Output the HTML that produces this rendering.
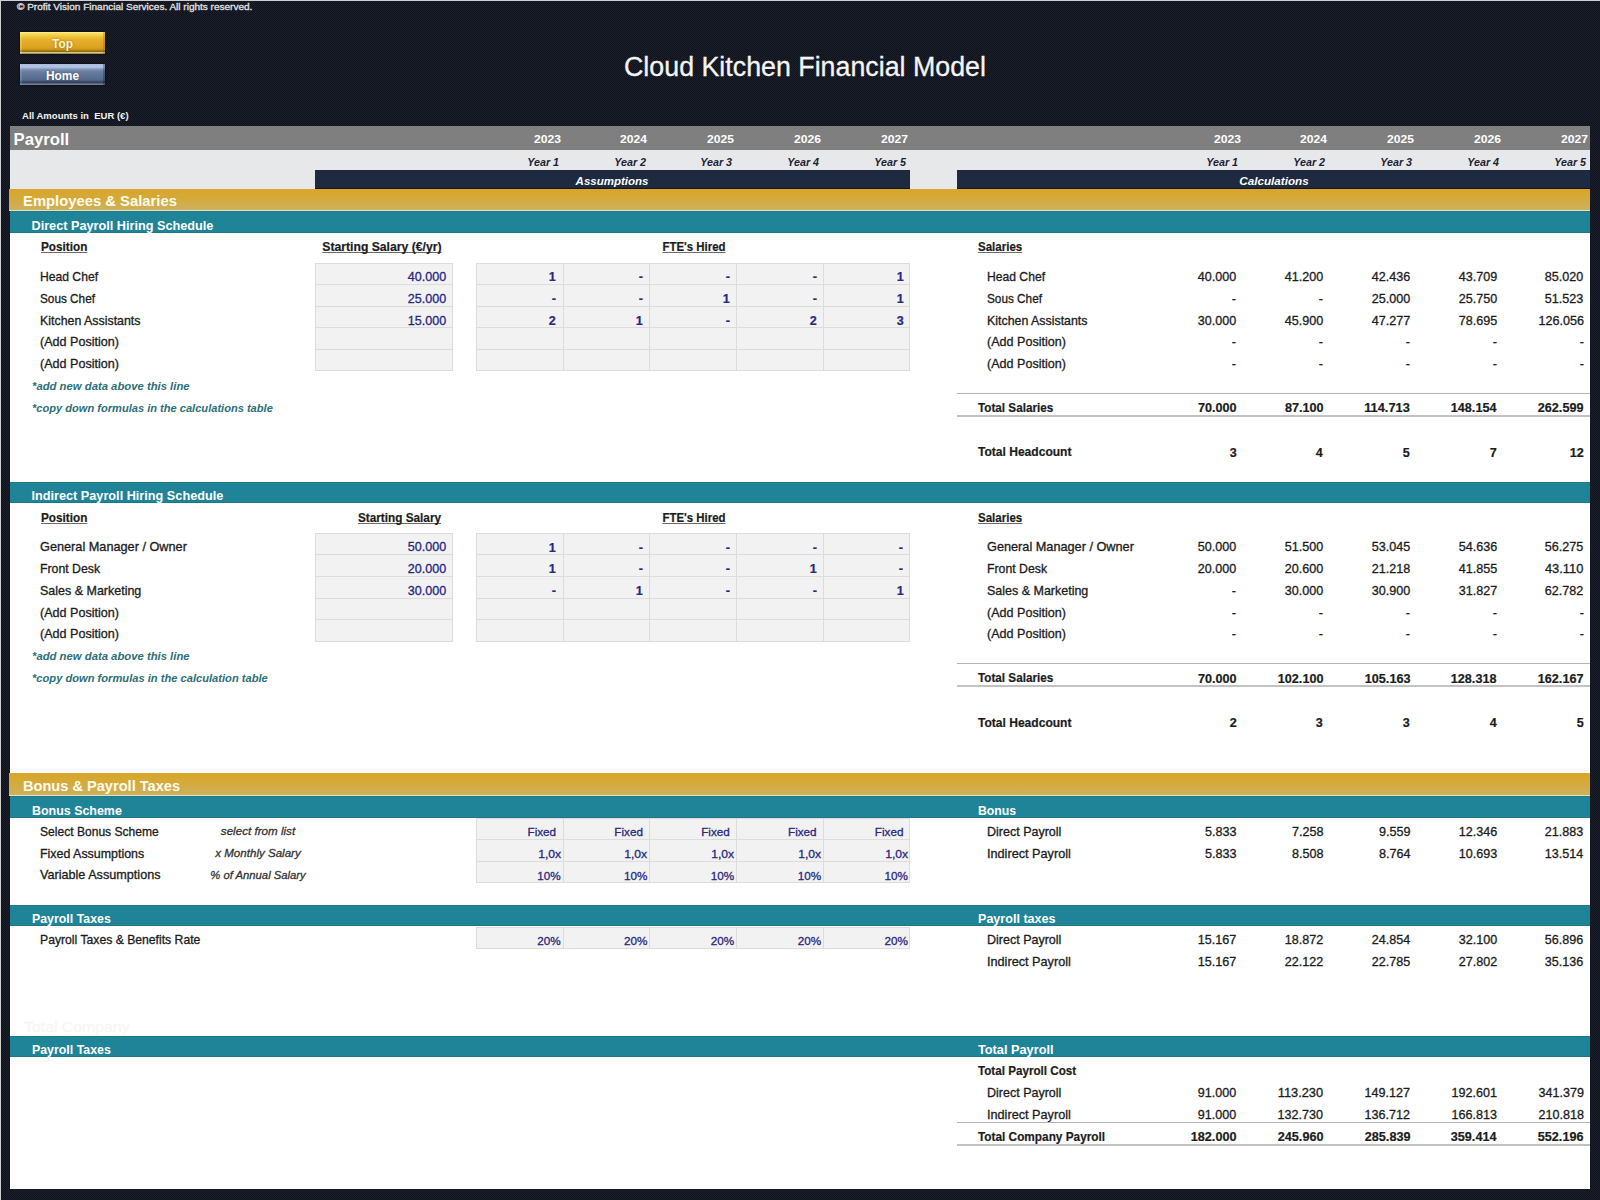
<!DOCTYPE html>
<html><head><meta charset="utf-8"><title>Cloud Kitchen Financial Model - Payroll</title>
<style>
html,body{margin:0;padding:0;}
body{width:1600px;height:1200px;position:relative;overflow:hidden;font-family:"Liberation Sans", Arial, sans-serif;
background-color:#151924;
background-image:repeating-conic-gradient(#1b1f2b 0 25%, #10131c 0 50%);
background-size:2px 2px;
}
.edge{position:absolute;background:#cfcfd2;}
.t{position:absolute;white-space:nowrap;line-height:1;}
.r{position:absolute;}
.btn{position:absolute;box-sizing:border-box;display:flex;align-items:center;justify-content:center;
 font-weight:bold;font-size:11.9px;color:#fff4cc;}
.btn span{position:relative;top:1px;text-shadow:0 0 2px rgba(0,0,0,0.35);}
.btn.gold{background:linear-gradient(to bottom,#fff0a8 0px,#f7df5c 1.5px,#f2d24a 3px,#ecc034 5.5px,#e6b02a 8px,#e2a826 12px,#daa01f 16px,#c99416 17.5px,#a27e16 18.5px,#8e7014 19.5px,#d6c488 20.5px,#a89450 21.5px,#7e6c36 22px);
 box-shadow:inset 2px 0 0 rgba(255,236,150,0.28),inset -2px 0 0 rgba(110,70,0,0.25),0 0 2px rgba(0,0,0,0.8);}
.btn.blue{background:linear-gradient(to bottom,#a9b9d6 0px,#b4c4e4 2px,#aabbe0 3.5px,#7d90b4 5.5px,#687ca0 8px,#5f7396 12px,#55688a 16px,#3e4e6a 17.5px,#2e3b52 19px,#8694b2 20px,#56647e 21px);
 box-shadow:inset 2px 0 0 rgba(200,215,245,0.18),inset -2px 0 0 rgba(10,20,40,0.3),0 0 2px rgba(0,0,0,0.8);color:#ffffff;}
</style></head>
<body>
<div class="edge" style="left:0;top:0;width:1600px;height:1px;"></div>
<div class="edge" style="left:0;top:0;width:1px;height:1200px;"></div>
<div class="t" style="top:1.88px;font-size:9.4px;-webkit-text-stroke:0.3px;color:#e2e2e2;left:17.00px;transform:scaleX(1.0679);transform-origin:left center;">© Profit Vision Financial Services. All rights reserved.</div>
<div class="btn gold" style="left:20px;top:32px;width:85px;height:22px;"><span>Top</span></div>
<div class="btn blue" style="left:20px;top:64px;width:85px;height:21px;"><span>Home</span></div>
<div class="t" style="top:53.96px;font-size:26.8px;-webkit-text-stroke:0.3px;color:#f4f4f4;left:505.00px;width:600px;text-align:center;">Cloud Kitchen Financial Model</div>
<div class="t" style="top:111.02px;font-size:9.6px;font-weight:bold;color:#f2f2f2;left:22.00px;transform:scaleX(0.9934);transform-origin:left center;">All Amounts in&nbsp; EUR (€)</div>
<div class="r" style="left:10px;top:126px;width:1580px;height:1063px;background:#ffffff;"></div>
<div class="r" style="left:10px;top:126px;width:1580px;height:24px;background:#7f7f7f;"></div>
<div class="t" style="top:132.04px;font-size:16.7px;font-weight:bold;color:#ffffff;left:13.50px;">Payroll</div>
<div class="t" style="top:132.94px;font-size:11.7px;font-weight:bold;color:#ffffff;right:1039.40px;transform:scaleX(1.0366);transform-origin:right center;">2023</div>
<div class="t" style="top:132.94px;font-size:11.7px;font-weight:bold;color:#ffffff;right:359.40px;transform:scaleX(1.0366);transform-origin:right center;">2023</div>
<div class="t" style="top:132.94px;font-size:11.7px;font-weight:bold;color:#ffffff;right:952.60px;transform:scaleX(1.0366);transform-origin:right center;">2024</div>
<div class="t" style="top:132.94px;font-size:11.7px;font-weight:bold;color:#ffffff;right:272.60px;transform:scaleX(1.0366);transform-origin:right center;">2024</div>
<div class="t" style="top:132.94px;font-size:11.7px;font-weight:bold;color:#ffffff;right:865.80px;transform:scaleX(1.0366);transform-origin:right center;">2025</div>
<div class="t" style="top:132.94px;font-size:11.7px;font-weight:bold;color:#ffffff;right:185.80px;transform:scaleX(1.0366);transform-origin:right center;">2025</div>
<div class="t" style="top:132.94px;font-size:11.7px;font-weight:bold;color:#ffffff;right:779.00px;transform:scaleX(1.0366);transform-origin:right center;">2026</div>
<div class="t" style="top:132.94px;font-size:11.7px;font-weight:bold;color:#ffffff;right:99.00px;transform:scaleX(1.0366);transform-origin:right center;">2026</div>
<div class="t" style="top:132.94px;font-size:11.7px;font-weight:bold;color:#ffffff;right:692.20px;transform:scaleX(1.0366);transform-origin:right center;">2027</div>
<div class="t" style="top:132.94px;font-size:11.7px;font-weight:bold;color:#ffffff;right:12.20px;transform:scaleX(1.0366);transform-origin:right center;">2027</div>
<div class="r" style="left:10px;top:150px;width:1580px;height:39px;background:#e7e8ea;"></div>
<div class="t" style="top:156.76px;font-size:10.8px;font-weight:bold;font-style:italic;color:#1b2233;right:1041.20px;transform:scaleX(0.9941);transform-origin:right center;">Year 1</div>
<div class="t" style="top:156.76px;font-size:10.8px;font-weight:bold;font-style:italic;color:#1b2233;right:361.50px;transform:scaleX(0.9941);transform-origin:right center;">Year 1</div>
<div class="t" style="top:156.76px;font-size:10.8px;font-weight:bold;font-style:italic;color:#1b2233;right:954.40px;transform:scaleX(0.9941);transform-origin:right center;">Year 2</div>
<div class="t" style="top:156.76px;font-size:10.8px;font-weight:bold;font-style:italic;color:#1b2233;right:274.70px;transform:scaleX(0.9941);transform-origin:right center;">Year 2</div>
<div class="t" style="top:156.76px;font-size:10.8px;font-weight:bold;font-style:italic;color:#1b2233;right:867.60px;transform:scaleX(0.9941);transform-origin:right center;">Year 3</div>
<div class="t" style="top:156.76px;font-size:10.8px;font-weight:bold;font-style:italic;color:#1b2233;right:187.90px;transform:scaleX(0.9941);transform-origin:right center;">Year 3</div>
<div class="t" style="top:156.76px;font-size:10.8px;font-weight:bold;font-style:italic;color:#1b2233;right:780.80px;transform:scaleX(0.9941);transform-origin:right center;">Year 4</div>
<div class="t" style="top:156.76px;font-size:10.8px;font-weight:bold;font-style:italic;color:#1b2233;right:101.10px;transform:scaleX(0.9941);transform-origin:right center;">Year 4</div>
<div class="t" style="top:156.76px;font-size:10.8px;font-weight:bold;font-style:italic;color:#1b2233;right:694.00px;transform:scaleX(0.9941);transform-origin:right center;">Year 5</div>
<div class="t" style="top:156.76px;font-size:10.8px;font-weight:bold;font-style:italic;color:#1b2233;right:14.30px;transform:scaleX(0.9941);transform-origin:right center;">Year 5</div>
<div class="r" style="left:315px;top:170px;width:595px;height:18.7px;background:#1d2a40;border-bottom:1px solid #11161c;box-sizing:border-box;"></div>
<div class="r" style="left:957px;top:170px;width:633px;height:18.7px;background:#1d2a40;border-bottom:1px solid #11161c;box-sizing:border-box;"></div>
<div class="t" style="top:176.30px;font-size:11.5px;font-weight:bold;font-style:italic;color:#ffffff;left:412.00px;width:400px;text-align:center;">Assumptions</div>
<div class="t" style="top:176.30px;font-size:11.5px;font-weight:bold;font-style:italic;color:#ffffff;left:1073.50px;width:400px;text-align:center;transform:scaleX(1.0167);transform-origin:center center;">Calculations</div>
<div class="r" style="left:9px;top:188.7px;width:1581px;height:21.5px;background:linear-gradient(#d9a52a 0%, #d5aa3a 45%, #ceb05f 100%);"></div>
<div class="r" style="left:9px;top:210.2px;width:1581px;height:1.2px;background:#dfe3c4;"></div>
<div class="t" style="top:194.14px;font-size:14.7px;font-weight:bold;color:#fffbea;left:22.50px;transform:scaleX(1.0081);transform-origin:left center;">Employees &amp; Salaries</div>
<div class="r" style="left:10px;top:211.3px;width:1580px;height:21.6px;background:linear-gradient(#1b7282 0px, #1f8497 1.2px, #1f8497 calc(100% - 1.2px), #1b7080 100%);"></div>
<div class="t" style="top:219.74px;font-size:12.7px;font-weight:bold;color:#ffffff;left:31.50px;">Direct Payroll Hiring Schedule</div>
<div class="t" style="top:241.24px;font-size:12.2px;font-weight:bold;-webkit-text-stroke:0.2px;color:#1c1c1c;left:40.50px;text-decoration:underline;text-decoration-color:#6a6a6a;text-decoration-thickness:1.2px;text-underline-offset:1px;text-decoration-skip-ink:none;transform:scaleX(0.9639);transform-origin:left center;">Position</div>
<div class="t" style="top:241.24px;font-size:12.2px;font-weight:bold;-webkit-text-stroke:0.2px;color:#1c1c1c;right:1158.50px;text-decoration:underline;text-decoration-color:#6a6a6a;text-decoration-thickness:1.2px;text-underline-offset:1px;text-decoration-skip-ink:none;">Starting Salary (€/yr)</div>
<div class="t" style="top:241.24px;font-size:12.2px;font-weight:bold;-webkit-text-stroke:0.2px;color:#1c1c1c;left:493.50px;width:400px;text-align:center;text-decoration:underline;text-decoration-color:#6a6a6a;text-decoration-thickness:1.2px;text-underline-offset:1px;text-decoration-skip-ink:none;transform:scaleX(0.9361);transform-origin:center center;">FTE's Hired</div>
<div class="t" style="top:241.24px;font-size:12.2px;font-weight:bold;-webkit-text-stroke:0.2px;color:#1c1c1c;left:977.60px;text-decoration:underline;text-decoration-color:#6a6a6a;text-decoration-thickness:1.2px;text-underline-offset:1px;text-decoration-skip-ink:none;transform:scaleX(0.9469);transform-origin:left center;">Salaries</div>
<div class="r" style="left:315.2px;top:262.8px;width:138px;height:108.5px;background:#f2f2f2;box-shadow:inset 0 0 0 1px #dcdcdc;"></div>
<div class="r" style="left:315.2px;top:284.0px;width:138px;height:1px;background:#dcdcdc;"></div>
<div class="r" style="left:315.2px;top:305.7px;width:138px;height:1px;background:#dcdcdc;"></div>
<div class="r" style="left:315.2px;top:327.4px;width:138px;height:1px;background:#dcdcdc;"></div>
<div class="r" style="left:315.2px;top:349.1px;width:138px;height:1px;background:#dcdcdc;"></div>
<div class="r" style="left:476.3px;top:262.8px;width:434.09999999999997px;height:108.5px;background:#f2f2f2;box-shadow:inset 0 0 0 1px #dcdcdc;"></div>
<div class="r" style="left:562.62px;top:262.8px;width:1px;height:108.5px;background:#dcdcdc;"></div>
<div class="r" style="left:649.44px;top:262.8px;width:1px;height:108.5px;background:#dcdcdc;"></div>
<div class="r" style="left:736.26px;top:262.8px;width:1px;height:108.5px;background:#dcdcdc;"></div>
<div class="r" style="left:823.0799999999999px;top:262.8px;width:1px;height:108.5px;background:#dcdcdc;"></div>
<div class="r" style="left:476.3px;top:284.0px;width:434.09999999999997px;height:1px;background:#dcdcdc;"></div>
<div class="r" style="left:476.3px;top:305.7px;width:434.09999999999997px;height:1px;background:#dcdcdc;"></div>
<div class="r" style="left:476.3px;top:327.4px;width:434.09999999999997px;height:1px;background:#dcdcdc;"></div>
<div class="r" style="left:476.3px;top:349.1px;width:434.09999999999997px;height:1px;background:#dcdcdc;"></div>
<div class="t" style="top:271.14px;font-size:12.2px;-webkit-text-stroke:0.3px;color:#1c1c1c;left:40.00px;transform:scaleX(0.9954);transform-origin:left center;">Head Chef</div>
<div class="t" style="top:271.14px;font-size:12.2px;-webkit-text-stroke:0.3px;color:#1c1c1c;left:987.00px;transform:scaleX(0.9954);transform-origin:left center;">Head Chef</div>
<div class="t" style="top:271.14px;font-size:12.2px;-webkit-text-stroke:0.3px;color:#28287f;right:1153.50px;transform:scaleX(1.0314);transform-origin:right center;">40.000</div>
<div class="t" style="top:271.24px;font-size:12.2px;font-weight:bold;-webkit-text-stroke:0.2px;color:#28287f;right:1043.88px;transform:scaleX(1.0323);transform-origin:right center;">1</div>
<div class="t" style="top:271.24px;font-size:12.2px;font-weight:bold;-webkit-text-stroke:0.2px;color:#28287f;right:957.06px;transform:scaleX(1.0423);transform-origin:right center;">-</div>
<div class="t" style="top:271.24px;font-size:12.2px;font-weight:bold;-webkit-text-stroke:0.2px;color:#28287f;right:870.24px;transform:scaleX(1.0423);transform-origin:right center;">-</div>
<div class="t" style="top:271.24px;font-size:12.2px;font-weight:bold;-webkit-text-stroke:0.2px;color:#28287f;right:783.42px;transform:scaleX(1.0423);transform-origin:right center;">-</div>
<div class="t" style="top:271.24px;font-size:12.2px;font-weight:bold;-webkit-text-stroke:0.2px;color:#28287f;right:696.60px;transform:scaleX(1.0323);transform-origin:right center;">1</div>
<div class="t" style="top:271.14px;font-size:12.2px;-webkit-text-stroke:0.3px;color:#1c1c1c;right:363.60px;transform:scaleX(1.0314);transform-origin:right center;">40.000</div>
<div class="t" style="top:271.14px;font-size:12.2px;-webkit-text-stroke:0.3px;color:#1c1c1c;right:276.80px;transform:scaleX(1.0314);transform-origin:right center;">41.200</div>
<div class="t" style="top:271.14px;font-size:12.2px;-webkit-text-stroke:0.3px;color:#1c1c1c;right:190.00px;transform:scaleX(1.0314);transform-origin:right center;">42.436</div>
<div class="t" style="top:271.14px;font-size:12.2px;-webkit-text-stroke:0.3px;color:#1c1c1c;right:103.20px;transform:scaleX(1.0314);transform-origin:right center;">43.709</div>
<div class="t" style="top:271.14px;font-size:12.2px;-webkit-text-stroke:0.3px;color:#1c1c1c;right:16.40px;transform:scaleX(1.0314);transform-origin:right center;">85.020</div>
<div class="t" style="top:292.84px;font-size:12.2px;-webkit-text-stroke:0.3px;color:#1c1c1c;left:40.00px;transform:scaleX(0.9654);transform-origin:left center;">Sous Chef</div>
<div class="t" style="top:292.84px;font-size:12.2px;-webkit-text-stroke:0.3px;color:#1c1c1c;left:987.00px;transform:scaleX(0.9654);transform-origin:left center;">Sous Chef</div>
<div class="t" style="top:292.84px;font-size:12.2px;-webkit-text-stroke:0.3px;color:#28287f;right:1153.50px;transform:scaleX(1.0314);transform-origin:right center;">25.000</div>
<div class="t" style="top:292.94px;font-size:12.2px;font-weight:bold;-webkit-text-stroke:0.2px;color:#28287f;right:1043.88px;transform:scaleX(1.0423);transform-origin:right center;">-</div>
<div class="t" style="top:292.94px;font-size:12.2px;font-weight:bold;-webkit-text-stroke:0.2px;color:#28287f;right:957.06px;transform:scaleX(1.0423);transform-origin:right center;">-</div>
<div class="t" style="top:292.94px;font-size:12.2px;font-weight:bold;-webkit-text-stroke:0.2px;color:#28287f;right:870.24px;transform:scaleX(1.0323);transform-origin:right center;">1</div>
<div class="t" style="top:292.94px;font-size:12.2px;font-weight:bold;-webkit-text-stroke:0.2px;color:#28287f;right:783.42px;transform:scaleX(1.0423);transform-origin:right center;">-</div>
<div class="t" style="top:292.94px;font-size:12.2px;font-weight:bold;-webkit-text-stroke:0.2px;color:#28287f;right:696.60px;transform:scaleX(1.0323);transform-origin:right center;">1</div>
<div class="t" style="top:292.84px;font-size:12.2px;-webkit-text-stroke:0.3px;color:#1c1c1c;right:363.60px;transform:scaleX(1.0423);transform-origin:right center;">-</div>
<div class="t" style="top:292.84px;font-size:12.2px;-webkit-text-stroke:0.3px;color:#1c1c1c;right:276.80px;transform:scaleX(1.0423);transform-origin:right center;">-</div>
<div class="t" style="top:292.84px;font-size:12.2px;-webkit-text-stroke:0.3px;color:#1c1c1c;right:190.00px;transform:scaleX(1.0314);transform-origin:right center;">25.000</div>
<div class="t" style="top:292.84px;font-size:12.2px;-webkit-text-stroke:0.3px;color:#1c1c1c;right:103.20px;transform:scaleX(1.0314);transform-origin:right center;">25.750</div>
<div class="t" style="top:292.84px;font-size:12.2px;-webkit-text-stroke:0.3px;color:#1c1c1c;right:16.40px;transform:scaleX(1.0314);transform-origin:right center;">51.523</div>
<div class="t" style="top:314.54px;font-size:12.2px;-webkit-text-stroke:0.3px;color:#1c1c1c;left:40.00px;transform:scaleX(1.0161);transform-origin:left center;">Kitchen Assistants</div>
<div class="t" style="top:314.54px;font-size:12.2px;-webkit-text-stroke:0.3px;color:#1c1c1c;left:987.00px;transform:scaleX(1.0161);transform-origin:left center;">Kitchen Assistants</div>
<div class="t" style="top:314.54px;font-size:12.2px;-webkit-text-stroke:0.3px;color:#28287f;right:1153.50px;transform:scaleX(1.0314);transform-origin:right center;">15.000</div>
<div class="t" style="top:314.64px;font-size:12.2px;font-weight:bold;-webkit-text-stroke:0.2px;color:#28287f;right:1043.88px;transform:scaleX(1.0323);transform-origin:right center;">2</div>
<div class="t" style="top:314.64px;font-size:12.2px;font-weight:bold;-webkit-text-stroke:0.2px;color:#28287f;right:957.06px;transform:scaleX(1.0323);transform-origin:right center;">1</div>
<div class="t" style="top:314.64px;font-size:12.2px;font-weight:bold;-webkit-text-stroke:0.2px;color:#28287f;right:870.24px;transform:scaleX(1.0423);transform-origin:right center;">-</div>
<div class="t" style="top:314.64px;font-size:12.2px;font-weight:bold;-webkit-text-stroke:0.2px;color:#28287f;right:783.42px;transform:scaleX(1.0323);transform-origin:right center;">2</div>
<div class="t" style="top:314.64px;font-size:12.2px;font-weight:bold;-webkit-text-stroke:0.2px;color:#28287f;right:696.60px;transform:scaleX(1.0323);transform-origin:right center;">3</div>
<div class="t" style="top:314.54px;font-size:12.2px;-webkit-text-stroke:0.3px;color:#1c1c1c;right:363.60px;transform:scaleX(1.0314);transform-origin:right center;">30.000</div>
<div class="t" style="top:314.54px;font-size:12.2px;-webkit-text-stroke:0.3px;color:#1c1c1c;right:276.80px;transform:scaleX(1.0314);transform-origin:right center;">45.900</div>
<div class="t" style="top:314.54px;font-size:12.2px;-webkit-text-stroke:0.3px;color:#1c1c1c;right:190.00px;transform:scaleX(1.0314);transform-origin:right center;">47.277</div>
<div class="t" style="top:314.54px;font-size:12.2px;-webkit-text-stroke:0.3px;color:#1c1c1c;right:103.20px;transform:scaleX(1.0314);transform-origin:right center;">78.695</div>
<div class="t" style="top:314.54px;font-size:12.2px;-webkit-text-stroke:0.3px;color:#1c1c1c;right:16.40px;transform:scaleX(1.0316);transform-origin:right center;">126.056</div>
<div class="t" style="top:336.24px;font-size:12.2px;-webkit-text-stroke:0.3px;color:#1c1c1c;left:40.00px;transform:scaleX(1.0304);transform-origin:left center;">(Add Position)</div>
<div class="t" style="top:336.24px;font-size:12.2px;-webkit-text-stroke:0.3px;color:#1c1c1c;left:987.00px;transform:scaleX(1.0304);transform-origin:left center;">(Add Position)</div>
<div class="t" style="top:336.24px;font-size:12.2px;-webkit-text-stroke:0.3px;color:#1c1c1c;right:363.60px;transform:scaleX(1.0423);transform-origin:right center;">-</div>
<div class="t" style="top:336.24px;font-size:12.2px;-webkit-text-stroke:0.3px;color:#1c1c1c;right:276.80px;transform:scaleX(1.0423);transform-origin:right center;">-</div>
<div class="t" style="top:336.24px;font-size:12.2px;-webkit-text-stroke:0.3px;color:#1c1c1c;right:190.00px;transform:scaleX(1.0423);transform-origin:right center;">-</div>
<div class="t" style="top:336.24px;font-size:12.2px;-webkit-text-stroke:0.3px;color:#1c1c1c;right:103.20px;transform:scaleX(1.0423);transform-origin:right center;">-</div>
<div class="t" style="top:336.24px;font-size:12.2px;-webkit-text-stroke:0.3px;color:#1c1c1c;right:16.40px;transform:scaleX(1.0423);transform-origin:right center;">-</div>
<div class="t" style="top:357.94px;font-size:12.2px;-webkit-text-stroke:0.3px;color:#1c1c1c;left:40.00px;transform:scaleX(1.0304);transform-origin:left center;">(Add Position)</div>
<div class="t" style="top:357.94px;font-size:12.2px;-webkit-text-stroke:0.3px;color:#1c1c1c;left:987.00px;transform:scaleX(1.0304);transform-origin:left center;">(Add Position)</div>
<div class="t" style="top:357.94px;font-size:12.2px;-webkit-text-stroke:0.3px;color:#1c1c1c;right:363.60px;transform:scaleX(1.0423);transform-origin:right center;">-</div>
<div class="t" style="top:357.94px;font-size:12.2px;-webkit-text-stroke:0.3px;color:#1c1c1c;right:276.80px;transform:scaleX(1.0423);transform-origin:right center;">-</div>
<div class="t" style="top:357.94px;font-size:12.2px;-webkit-text-stroke:0.3px;color:#1c1c1c;right:190.00px;transform:scaleX(1.0423);transform-origin:right center;">-</div>
<div class="t" style="top:357.94px;font-size:12.2px;-webkit-text-stroke:0.3px;color:#1c1c1c;right:103.20px;transform:scaleX(1.0423);transform-origin:right center;">-</div>
<div class="t" style="top:357.94px;font-size:12.2px;-webkit-text-stroke:0.3px;color:#1c1c1c;right:16.40px;transform:scaleX(1.0423);transform-origin:right center;">-</div>
<div class="t" style="top:380.76px;font-size:11.3px;font-weight:bold;font-style:italic;color:#2c6f78;left:32.00px;">*add new data above this line</div>
<div class="t" style="top:402.61px;font-size:11.3px;font-weight:bold;font-style:italic;color:#2c6f78;left:32.00px;transform:scaleX(0.9811);transform-origin:left center;">*copy down formulas in the calculations table</div>
<div class="r" style="left:957px;top:393px;width:633px;height:1px;background:#b4b4b4;"></div>
<div class="r" style="left:957px;top:415px;width:633px;height:2px;background:#c2c2c2;"></div>
<div class="t" style="top:401.99px;font-size:12.2px;font-weight:bold;-webkit-text-stroke:0.2px;color:#1c1c1c;left:978.00px;transform:scaleX(0.9609);transform-origin:left center;">Total Salaries</div>
<div class="t" style="top:446.34px;font-size:12.2px;font-weight:bold;-webkit-text-stroke:0.2px;color:#1c1c1c;left:978.00px;transform:scaleX(0.9884);transform-origin:left center;">Total Headcount</div>
<div class="t" style="top:402.21px;font-size:12.3px;font-weight:bold;-webkit-text-stroke:0.2px;color:#1c1c1c;right:363.60px;transform:scaleX(1.0274);transform-origin:right center;">70.000</div>
<div class="t" style="top:446.56px;font-size:12.3px;font-weight:bold;-webkit-text-stroke:0.2px;color:#1c1c1c;right:363.60px;transform:scaleX(1.0228);transform-origin:right center;">3</div>
<div class="t" style="top:402.21px;font-size:12.3px;font-weight:bold;-webkit-text-stroke:0.2px;color:#1c1c1c;right:276.80px;transform:scaleX(1.0274);transform-origin:right center;">87.100</div>
<div class="t" style="top:446.56px;font-size:12.3px;font-weight:bold;-webkit-text-stroke:0.2px;color:#1c1c1c;right:276.80px;transform:scaleX(1.0228);transform-origin:right center;">4</div>
<div class="t" style="top:402.21px;font-size:12.3px;font-weight:bold;-webkit-text-stroke:0.2px;color:#1c1c1c;right:190.00px;transform:scaleX(1.0428);transform-origin:right center;">114.713</div>
<div class="t" style="top:446.56px;font-size:12.3px;font-weight:bold;-webkit-text-stroke:0.2px;color:#1c1c1c;right:190.00px;transform:scaleX(1.0228);transform-origin:right center;">5</div>
<div class="t" style="top:402.21px;font-size:12.3px;font-weight:bold;-webkit-text-stroke:0.2px;color:#1c1c1c;right:103.20px;transform:scaleX(1.0271);transform-origin:right center;">148.154</div>
<div class="t" style="top:446.56px;font-size:12.3px;font-weight:bold;-webkit-text-stroke:0.2px;color:#1c1c1c;right:103.20px;transform:scaleX(1.0228);transform-origin:right center;">7</div>
<div class="t" style="top:402.21px;font-size:12.3px;font-weight:bold;-webkit-text-stroke:0.2px;color:#1c1c1c;right:16.40px;transform:scaleX(1.0271);transform-origin:right center;">262.599</div>
<div class="t" style="top:446.56px;font-size:12.3px;font-weight:bold;-webkit-text-stroke:0.2px;color:#1c1c1c;right:16.40px;transform:scaleX(1.0228);transform-origin:right center;">12</div>
<div class="r" style="left:10px;top:481.6px;width:1580px;height:21.6px;background:linear-gradient(#1b7282 0px, #1f8497 1.2px, #1f8497 calc(100% - 1.2px), #1b7080 100%);"></div>
<div class="t" style="top:490.04px;font-size:12.7px;font-weight:bold;color:#ffffff;left:31.50px;">Indirect Payroll Hiring Schedule</div>
<div class="t" style="top:511.54px;font-size:12.2px;font-weight:bold;-webkit-text-stroke:0.2px;color:#1c1c1c;left:40.50px;text-decoration:underline;text-decoration-color:#6a6a6a;text-decoration-thickness:1.2px;text-underline-offset:1px;text-decoration-skip-ink:none;transform:scaleX(0.9639);transform-origin:left center;">Position</div>
<div class="t" style="top:511.54px;font-size:12.2px;font-weight:bold;-webkit-text-stroke:0.2px;color:#1c1c1c;right:1158.50px;text-decoration:underline;text-decoration-color:#6a6a6a;text-decoration-thickness:1.2px;text-underline-offset:1px;text-decoration-skip-ink:none;transform:scaleX(0.9655);transform-origin:right center;">Starting Salary</div>
<div class="t" style="top:511.54px;font-size:12.2px;font-weight:bold;-webkit-text-stroke:0.2px;color:#1c1c1c;left:493.50px;width:400px;text-align:center;text-decoration:underline;text-decoration-color:#6a6a6a;text-decoration-thickness:1.2px;text-underline-offset:1px;text-decoration-skip-ink:none;transform:scaleX(0.9361);transform-origin:center center;">FTE's Hired</div>
<div class="t" style="top:511.54px;font-size:12.2px;font-weight:bold;-webkit-text-stroke:0.2px;color:#1c1c1c;left:977.60px;text-decoration:underline;text-decoration-color:#6a6a6a;text-decoration-thickness:1.2px;text-underline-offset:1px;text-decoration-skip-ink:none;transform:scaleX(0.9469);transform-origin:left center;">Salaries</div>
<div class="r" style="left:315.2px;top:533.1px;width:138px;height:108.5px;background:#f2f2f2;box-shadow:inset 0 0 0 1px #dcdcdc;"></div>
<div class="r" style="left:315.2px;top:554.3000000000001px;width:138px;height:1px;background:#dcdcdc;"></div>
<div class="r" style="left:315.2px;top:576.0px;width:138px;height:1px;background:#dcdcdc;"></div>
<div class="r" style="left:315.2px;top:597.7px;width:138px;height:1px;background:#dcdcdc;"></div>
<div class="r" style="left:315.2px;top:619.4px;width:138px;height:1px;background:#dcdcdc;"></div>
<div class="r" style="left:476.3px;top:533.1px;width:434.09999999999997px;height:108.5px;background:#f2f2f2;box-shadow:inset 0 0 0 1px #dcdcdc;"></div>
<div class="r" style="left:562.62px;top:533.1px;width:1px;height:108.5px;background:#dcdcdc;"></div>
<div class="r" style="left:649.44px;top:533.1px;width:1px;height:108.5px;background:#dcdcdc;"></div>
<div class="r" style="left:736.26px;top:533.1px;width:1px;height:108.5px;background:#dcdcdc;"></div>
<div class="r" style="left:823.0799999999999px;top:533.1px;width:1px;height:108.5px;background:#dcdcdc;"></div>
<div class="r" style="left:476.3px;top:554.3000000000001px;width:434.09999999999997px;height:1px;background:#dcdcdc;"></div>
<div class="r" style="left:476.3px;top:576.0px;width:434.09999999999997px;height:1px;background:#dcdcdc;"></div>
<div class="r" style="left:476.3px;top:597.7px;width:434.09999999999997px;height:1px;background:#dcdcdc;"></div>
<div class="r" style="left:476.3px;top:619.4px;width:434.09999999999997px;height:1px;background:#dcdcdc;"></div>
<div class="t" style="top:541.44px;font-size:12.2px;-webkit-text-stroke:0.3px;color:#1c1c1c;left:40.00px;transform:scaleX(1.0427);transform-origin:left center;">General Manager / Owner</div>
<div class="t" style="top:541.44px;font-size:12.2px;-webkit-text-stroke:0.3px;color:#1c1c1c;left:987.00px;transform:scaleX(1.0427);transform-origin:left center;">General Manager / Owner</div>
<div class="t" style="top:541.44px;font-size:12.2px;-webkit-text-stroke:0.3px;color:#28287f;right:1153.50px;transform:scaleX(1.0314);transform-origin:right center;">50.000</div>
<div class="t" style="top:541.54px;font-size:12.2px;font-weight:bold;-webkit-text-stroke:0.2px;color:#28287f;right:1043.88px;transform:scaleX(1.0323);transform-origin:right center;">1</div>
<div class="t" style="top:541.54px;font-size:12.2px;font-weight:bold;-webkit-text-stroke:0.2px;color:#28287f;right:957.06px;transform:scaleX(1.0423);transform-origin:right center;">-</div>
<div class="t" style="top:541.54px;font-size:12.2px;font-weight:bold;-webkit-text-stroke:0.2px;color:#28287f;right:870.24px;transform:scaleX(1.0423);transform-origin:right center;">-</div>
<div class="t" style="top:541.54px;font-size:12.2px;font-weight:bold;-webkit-text-stroke:0.2px;color:#28287f;right:783.42px;transform:scaleX(1.0423);transform-origin:right center;">-</div>
<div class="t" style="top:541.54px;font-size:12.2px;font-weight:bold;-webkit-text-stroke:0.2px;color:#28287f;right:696.60px;transform:scaleX(1.0423);transform-origin:right center;">-</div>
<div class="t" style="top:541.44px;font-size:12.2px;-webkit-text-stroke:0.3px;color:#1c1c1c;right:363.60px;transform:scaleX(1.0314);transform-origin:right center;">50.000</div>
<div class="t" style="top:541.44px;font-size:12.2px;-webkit-text-stroke:0.3px;color:#1c1c1c;right:276.80px;transform:scaleX(1.0314);transform-origin:right center;">51.500</div>
<div class="t" style="top:541.44px;font-size:12.2px;-webkit-text-stroke:0.3px;color:#1c1c1c;right:190.00px;transform:scaleX(1.0314);transform-origin:right center;">53.045</div>
<div class="t" style="top:541.44px;font-size:12.2px;-webkit-text-stroke:0.3px;color:#1c1c1c;right:103.20px;transform:scaleX(1.0314);transform-origin:right center;">54.636</div>
<div class="t" style="top:541.44px;font-size:12.2px;-webkit-text-stroke:0.3px;color:#1c1c1c;right:16.40px;transform:scaleX(1.0314);transform-origin:right center;">56.275</div>
<div class="t" style="top:563.14px;font-size:12.2px;-webkit-text-stroke:0.3px;color:#1c1c1c;left:40.00px;transform:scaleX(1.0081);transform-origin:left center;">Front Desk</div>
<div class="t" style="top:563.14px;font-size:12.2px;-webkit-text-stroke:0.3px;color:#1c1c1c;left:987.00px;transform:scaleX(1.0081);transform-origin:left center;">Front Desk</div>
<div class="t" style="top:563.14px;font-size:12.2px;-webkit-text-stroke:0.3px;color:#28287f;right:1153.50px;transform:scaleX(1.0314);transform-origin:right center;">20.000</div>
<div class="t" style="top:563.24px;font-size:12.2px;font-weight:bold;-webkit-text-stroke:0.2px;color:#28287f;right:1043.88px;transform:scaleX(1.0323);transform-origin:right center;">1</div>
<div class="t" style="top:563.24px;font-size:12.2px;font-weight:bold;-webkit-text-stroke:0.2px;color:#28287f;right:957.06px;transform:scaleX(1.0423);transform-origin:right center;">-</div>
<div class="t" style="top:563.24px;font-size:12.2px;font-weight:bold;-webkit-text-stroke:0.2px;color:#28287f;right:870.24px;transform:scaleX(1.0423);transform-origin:right center;">-</div>
<div class="t" style="top:563.24px;font-size:12.2px;font-weight:bold;-webkit-text-stroke:0.2px;color:#28287f;right:783.42px;transform:scaleX(1.0323);transform-origin:right center;">1</div>
<div class="t" style="top:563.24px;font-size:12.2px;font-weight:bold;-webkit-text-stroke:0.2px;color:#28287f;right:696.60px;transform:scaleX(1.0423);transform-origin:right center;">-</div>
<div class="t" style="top:563.14px;font-size:12.2px;-webkit-text-stroke:0.3px;color:#1c1c1c;right:363.60px;transform:scaleX(1.0314);transform-origin:right center;">20.000</div>
<div class="t" style="top:563.14px;font-size:12.2px;-webkit-text-stroke:0.3px;color:#1c1c1c;right:276.80px;transform:scaleX(1.0314);transform-origin:right center;">20.600</div>
<div class="t" style="top:563.14px;font-size:12.2px;-webkit-text-stroke:0.3px;color:#1c1c1c;right:190.00px;transform:scaleX(1.0314);transform-origin:right center;">21.218</div>
<div class="t" style="top:563.14px;font-size:12.2px;-webkit-text-stroke:0.3px;color:#1c1c1c;right:103.20px;transform:scaleX(1.0314);transform-origin:right center;">41.855</div>
<div class="t" style="top:563.14px;font-size:12.2px;-webkit-text-stroke:0.3px;color:#1c1c1c;right:16.40px;transform:scaleX(1.0571);transform-origin:right center;">43.110</div>
<div class="t" style="top:584.84px;font-size:12.2px;-webkit-text-stroke:0.3px;color:#1c1c1c;left:40.00px;transform:scaleX(1.0242);transform-origin:left center;">Sales &amp; Marketing</div>
<div class="t" style="top:584.84px;font-size:12.2px;-webkit-text-stroke:0.3px;color:#1c1c1c;left:987.00px;transform:scaleX(1.0242);transform-origin:left center;">Sales &amp; Marketing</div>
<div class="t" style="top:584.84px;font-size:12.2px;-webkit-text-stroke:0.3px;color:#28287f;right:1153.50px;transform:scaleX(1.0314);transform-origin:right center;">30.000</div>
<div class="t" style="top:584.94px;font-size:12.2px;font-weight:bold;-webkit-text-stroke:0.2px;color:#28287f;right:1043.88px;transform:scaleX(1.0423);transform-origin:right center;">-</div>
<div class="t" style="top:584.94px;font-size:12.2px;font-weight:bold;-webkit-text-stroke:0.2px;color:#28287f;right:957.06px;transform:scaleX(1.0323);transform-origin:right center;">1</div>
<div class="t" style="top:584.94px;font-size:12.2px;font-weight:bold;-webkit-text-stroke:0.2px;color:#28287f;right:870.24px;transform:scaleX(1.0423);transform-origin:right center;">-</div>
<div class="t" style="top:584.94px;font-size:12.2px;font-weight:bold;-webkit-text-stroke:0.2px;color:#28287f;right:783.42px;transform:scaleX(1.0423);transform-origin:right center;">-</div>
<div class="t" style="top:584.94px;font-size:12.2px;font-weight:bold;-webkit-text-stroke:0.2px;color:#28287f;right:696.60px;transform:scaleX(1.0323);transform-origin:right center;">1</div>
<div class="t" style="top:584.84px;font-size:12.2px;-webkit-text-stroke:0.3px;color:#1c1c1c;right:363.60px;transform:scaleX(1.0423);transform-origin:right center;">-</div>
<div class="t" style="top:584.84px;font-size:12.2px;-webkit-text-stroke:0.3px;color:#1c1c1c;right:276.80px;transform:scaleX(1.0314);transform-origin:right center;">30.000</div>
<div class="t" style="top:584.84px;font-size:12.2px;-webkit-text-stroke:0.3px;color:#1c1c1c;right:190.00px;transform:scaleX(1.0314);transform-origin:right center;">30.900</div>
<div class="t" style="top:584.84px;font-size:12.2px;-webkit-text-stroke:0.3px;color:#1c1c1c;right:103.20px;transform:scaleX(1.0314);transform-origin:right center;">31.827</div>
<div class="t" style="top:584.84px;font-size:12.2px;-webkit-text-stroke:0.3px;color:#1c1c1c;right:16.40px;transform:scaleX(1.0314);transform-origin:right center;">62.782</div>
<div class="t" style="top:606.54px;font-size:12.2px;-webkit-text-stroke:0.3px;color:#1c1c1c;left:40.00px;transform:scaleX(1.0304);transform-origin:left center;">(Add Position)</div>
<div class="t" style="top:606.54px;font-size:12.2px;-webkit-text-stroke:0.3px;color:#1c1c1c;left:987.00px;transform:scaleX(1.0304);transform-origin:left center;">(Add Position)</div>
<div class="t" style="top:606.54px;font-size:12.2px;-webkit-text-stroke:0.3px;color:#1c1c1c;right:363.60px;transform:scaleX(1.0423);transform-origin:right center;">-</div>
<div class="t" style="top:606.54px;font-size:12.2px;-webkit-text-stroke:0.3px;color:#1c1c1c;right:276.80px;transform:scaleX(1.0423);transform-origin:right center;">-</div>
<div class="t" style="top:606.54px;font-size:12.2px;-webkit-text-stroke:0.3px;color:#1c1c1c;right:190.00px;transform:scaleX(1.0423);transform-origin:right center;">-</div>
<div class="t" style="top:606.54px;font-size:12.2px;-webkit-text-stroke:0.3px;color:#1c1c1c;right:103.20px;transform:scaleX(1.0423);transform-origin:right center;">-</div>
<div class="t" style="top:606.54px;font-size:12.2px;-webkit-text-stroke:0.3px;color:#1c1c1c;right:16.40px;transform:scaleX(1.0423);transform-origin:right center;">-</div>
<div class="t" style="top:628.24px;font-size:12.2px;-webkit-text-stroke:0.3px;color:#1c1c1c;left:40.00px;transform:scaleX(1.0304);transform-origin:left center;">(Add Position)</div>
<div class="t" style="top:628.24px;font-size:12.2px;-webkit-text-stroke:0.3px;color:#1c1c1c;left:987.00px;transform:scaleX(1.0304);transform-origin:left center;">(Add Position)</div>
<div class="t" style="top:628.24px;font-size:12.2px;-webkit-text-stroke:0.3px;color:#1c1c1c;right:363.60px;transform:scaleX(1.0423);transform-origin:right center;">-</div>
<div class="t" style="top:628.24px;font-size:12.2px;-webkit-text-stroke:0.3px;color:#1c1c1c;right:276.80px;transform:scaleX(1.0423);transform-origin:right center;">-</div>
<div class="t" style="top:628.24px;font-size:12.2px;-webkit-text-stroke:0.3px;color:#1c1c1c;right:190.00px;transform:scaleX(1.0423);transform-origin:right center;">-</div>
<div class="t" style="top:628.24px;font-size:12.2px;-webkit-text-stroke:0.3px;color:#1c1c1c;right:103.20px;transform:scaleX(1.0423);transform-origin:right center;">-</div>
<div class="t" style="top:628.24px;font-size:12.2px;-webkit-text-stroke:0.3px;color:#1c1c1c;right:16.40px;transform:scaleX(1.0423);transform-origin:right center;">-</div>
<div class="t" style="top:651.06px;font-size:11.3px;font-weight:bold;font-style:italic;color:#2c6f78;left:32.00px;">*add new data above this line</div>
<div class="t" style="top:672.91px;font-size:11.3px;font-weight:bold;font-style:italic;color:#2c6f78;left:32.00px;transform:scaleX(0.9860);transform-origin:left center;">*copy down formulas in the calculation table</div>
<div class="r" style="left:957px;top:663.3px;width:633px;height:1px;background:#b4b4b4;"></div>
<div class="r" style="left:957px;top:685.3px;width:633px;height:2px;background:#c2c2c2;"></div>
<div class="t" style="top:672.29px;font-size:12.2px;font-weight:bold;-webkit-text-stroke:0.2px;color:#1c1c1c;left:978.00px;transform:scaleX(0.9609);transform-origin:left center;">Total Salaries</div>
<div class="t" style="top:716.64px;font-size:12.2px;font-weight:bold;-webkit-text-stroke:0.2px;color:#1c1c1c;left:978.00px;transform:scaleX(0.9884);transform-origin:left center;">Total Headcount</div>
<div class="t" style="top:672.51px;font-size:12.3px;font-weight:bold;-webkit-text-stroke:0.2px;color:#1c1c1c;right:363.60px;transform:scaleX(1.0274);transform-origin:right center;">70.000</div>
<div class="t" style="top:716.86px;font-size:12.3px;font-weight:bold;-webkit-text-stroke:0.2px;color:#1c1c1c;right:363.60px;transform:scaleX(1.0228);transform-origin:right center;">2</div>
<div class="t" style="top:672.51px;font-size:12.3px;font-weight:bold;-webkit-text-stroke:0.2px;color:#1c1c1c;right:276.80px;transform:scaleX(1.0271);transform-origin:right center;">102.100</div>
<div class="t" style="top:716.86px;font-size:12.3px;font-weight:bold;-webkit-text-stroke:0.2px;color:#1c1c1c;right:276.80px;transform:scaleX(1.0228);transform-origin:right center;">3</div>
<div class="t" style="top:672.51px;font-size:12.3px;font-weight:bold;-webkit-text-stroke:0.2px;color:#1c1c1c;right:190.00px;transform:scaleX(1.0271);transform-origin:right center;">105.163</div>
<div class="t" style="top:716.86px;font-size:12.3px;font-weight:bold;-webkit-text-stroke:0.2px;color:#1c1c1c;right:190.00px;transform:scaleX(1.0228);transform-origin:right center;">3</div>
<div class="t" style="top:672.51px;font-size:12.3px;font-weight:bold;-webkit-text-stroke:0.2px;color:#1c1c1c;right:103.20px;transform:scaleX(1.0271);transform-origin:right center;">128.318</div>
<div class="t" style="top:716.86px;font-size:12.3px;font-weight:bold;-webkit-text-stroke:0.2px;color:#1c1c1c;right:103.20px;transform:scaleX(1.0228);transform-origin:right center;">4</div>
<div class="t" style="top:672.51px;font-size:12.3px;font-weight:bold;-webkit-text-stroke:0.2px;color:#1c1c1c;right:16.40px;transform:scaleX(1.0271);transform-origin:right center;">162.167</div>
<div class="t" style="top:716.86px;font-size:12.3px;font-weight:bold;-webkit-text-stroke:0.2px;color:#1c1c1c;right:16.40px;transform:scaleX(1.0228);transform-origin:right center;">5</div>
<div class="r" style="left:9px;top:773.2px;width:1581px;height:21.5px;background:linear-gradient(#d9a52a 0%, #d5aa3a 45%, #ceb05f 100%);"></div>
<div class="r" style="left:9px;top:794.7px;width:1581px;height:1.2px;background:#dfe3c4;"></div>
<div class="t" style="top:778.64px;font-size:14.7px;font-weight:bold;color:#fffbea;left:22.50px;transform:scaleX(0.9933);transform-origin:left center;">Bonus &amp; Payroll Taxes</div>
<div class="r" style="left:10px;top:796.2px;width:1580px;height:21.6px;background:linear-gradient(#1b7282 0px, #1f8497 1.2px, #1f8497 calc(100% - 1.2px), #1b7080 100%);"></div>
<div class="t" style="top:804.64px;font-size:12.7px;font-weight:bold;color:#ffffff;left:31.50px;transform:scaleX(0.9801);transform-origin:left center;">Bonus Scheme</div>
<div class="t" style="top:804.64px;font-size:12.7px;font-weight:bold;color:#ffffff;left:977.50px;transform:scaleX(0.9676);transform-origin:left center;">Bonus</div>
<div class="r" style="left:476.3px;top:818.2px;width:434.09999999999997px;height:64.65px;background:#f2f2f2;box-shadow:inset 0 0 0 1px #dcdcdc;"></div>
<div class="r" style="left:562.62px;top:818.2px;width:1px;height:64.65px;background:#dcdcdc;"></div>
<div class="r" style="left:649.44px;top:818.2px;width:1px;height:64.65px;background:#dcdcdc;"></div>
<div class="r" style="left:736.26px;top:818.2px;width:1px;height:64.65px;background:#dcdcdc;"></div>
<div class="r" style="left:823.0799999999999px;top:818.2px;width:1px;height:64.65px;background:#dcdcdc;"></div>
<div class="r" style="left:476.3px;top:839.25px;width:434.09999999999997px;height:1px;background:#dcdcdc;"></div>
<div class="r" style="left:476.3px;top:860.8000000000001px;width:434.09999999999997px;height:1px;background:#dcdcdc;"></div>
<div class="t" style="top:825.64px;font-size:12.2px;-webkit-text-stroke:0.3px;color:#1c1c1c;left:40.00px;transform:scaleX(0.9905);transform-origin:left center;">Select Bonus Scheme</div>
<div class="t" style="top:826.20px;font-size:11.5px;-webkit-text-stroke:0.3px;font-style:italic;color:#333333;left:58.30px;width:400px;text-align:center;transform:scaleX(1.0113);transform-origin:center center;">select from list</div>
<div class="t" style="top:826.04px;font-size:11.7px;-webkit-text-stroke:0.3px;color:#28287f;right:1043.88px;">Fixed</div>
<div class="t" style="top:826.04px;font-size:11.7px;-webkit-text-stroke:0.3px;color:#28287f;right:957.06px;">Fixed</div>
<div class="t" style="top:826.04px;font-size:11.7px;-webkit-text-stroke:0.3px;color:#28287f;right:870.24px;">Fixed</div>
<div class="t" style="top:826.04px;font-size:11.7px;-webkit-text-stroke:0.3px;color:#28287f;right:783.42px;">Fixed</div>
<div class="t" style="top:826.04px;font-size:11.7px;-webkit-text-stroke:0.3px;color:#28287f;right:696.60px;">Fixed</div>
<div class="t" style="top:847.54px;font-size:12.2px;-webkit-text-stroke:0.3px;color:#1c1c1c;left:40.00px;transform:scaleX(1.0186);transform-origin:left center;">Fixed Assumptions</div>
<div class="t" style="top:848.10px;font-size:11.5px;-webkit-text-stroke:0.3px;font-style:italic;color:#333333;left:58.30px;width:400px;text-align:center;transform:scaleX(1.0057);transform-origin:center center;">x Monthly Salary</div>
<div class="t" style="top:847.94px;font-size:11.7px;-webkit-text-stroke:0.3px;color:#28287f;right:1039.38px;transform:scaleX(1.0368);transform-origin:right center;">1,0x</div>
<div class="t" style="top:847.94px;font-size:11.7px;-webkit-text-stroke:0.3px;color:#28287f;right:952.56px;transform:scaleX(1.0368);transform-origin:right center;">1,0x</div>
<div class="t" style="top:847.94px;font-size:11.7px;-webkit-text-stroke:0.3px;color:#28287f;right:865.74px;transform:scaleX(1.0368);transform-origin:right center;">1,0x</div>
<div class="t" style="top:847.94px;font-size:11.7px;-webkit-text-stroke:0.3px;color:#28287f;right:778.92px;transform:scaleX(1.0368);transform-origin:right center;">1,0x</div>
<div class="t" style="top:847.94px;font-size:11.7px;-webkit-text-stroke:0.3px;color:#28287f;right:692.10px;transform:scaleX(1.0368);transform-origin:right center;">1,0x</div>
<div class="t" style="top:869.44px;font-size:12.2px;-webkit-text-stroke:0.3px;color:#1c1c1c;left:40.00px;transform:scaleX(1.0361);transform-origin:left center;">Variable Assumptions</div>
<div class="t" style="top:870.00px;font-size:11.5px;-webkit-text-stroke:0.3px;font-style:italic;color:#333333;left:58.30px;width:400px;text-align:center;transform:scaleX(0.9804);transform-origin:center center;">% of Annual Salary</div>
<div class="t" style="top:869.84px;font-size:11.7px;-webkit-text-stroke:0.3px;color:#28287f;right:1039.38px;">10%</div>
<div class="t" style="top:869.84px;font-size:11.7px;-webkit-text-stroke:0.3px;color:#28287f;right:952.56px;">10%</div>
<div class="t" style="top:869.84px;font-size:11.7px;-webkit-text-stroke:0.3px;color:#28287f;right:865.74px;">10%</div>
<div class="t" style="top:869.84px;font-size:11.7px;-webkit-text-stroke:0.3px;color:#28287f;right:778.92px;">10%</div>
<div class="t" style="top:869.84px;font-size:11.7px;-webkit-text-stroke:0.3px;color:#28287f;right:692.10px;">10%</div>
<div class="t" style="top:825.64px;font-size:12.2px;-webkit-text-stroke:0.3px;color:#1c1c1c;left:987.00px;transform:scaleX(1.0261);transform-origin:left center;">Direct Payroll</div>
<div class="t" style="top:825.64px;font-size:12.2px;-webkit-text-stroke:0.3px;color:#1c1c1c;right:363.60px;transform:scaleX(1.0318);transform-origin:right center;">5.833</div>
<div class="t" style="top:825.64px;font-size:12.2px;-webkit-text-stroke:0.3px;color:#1c1c1c;right:276.80px;transform:scaleX(1.0318);transform-origin:right center;">7.258</div>
<div class="t" style="top:825.64px;font-size:12.2px;-webkit-text-stroke:0.3px;color:#1c1c1c;right:190.00px;transform:scaleX(1.0318);transform-origin:right center;">9.559</div>
<div class="t" style="top:825.64px;font-size:12.2px;-webkit-text-stroke:0.3px;color:#1c1c1c;right:103.20px;transform:scaleX(1.0314);transform-origin:right center;">12.346</div>
<div class="t" style="top:825.64px;font-size:12.2px;-webkit-text-stroke:0.3px;color:#1c1c1c;right:16.40px;transform:scaleX(1.0314);transform-origin:right center;">21.883</div>
<div class="t" style="top:847.54px;font-size:12.2px;-webkit-text-stroke:0.3px;color:#1c1c1c;left:987.00px;transform:scaleX(1.0401);transform-origin:left center;">Indirect Payroll</div>
<div class="t" style="top:847.54px;font-size:12.2px;-webkit-text-stroke:0.3px;color:#1c1c1c;right:363.60px;transform:scaleX(1.0318);transform-origin:right center;">5.833</div>
<div class="t" style="top:847.54px;font-size:12.2px;-webkit-text-stroke:0.3px;color:#1c1c1c;right:276.80px;transform:scaleX(1.0318);transform-origin:right center;">8.508</div>
<div class="t" style="top:847.54px;font-size:12.2px;-webkit-text-stroke:0.3px;color:#1c1c1c;right:190.00px;transform:scaleX(1.0318);transform-origin:right center;">8.764</div>
<div class="t" style="top:847.54px;font-size:12.2px;-webkit-text-stroke:0.3px;color:#1c1c1c;right:103.20px;transform:scaleX(1.0314);transform-origin:right center;">10.693</div>
<div class="t" style="top:847.54px;font-size:12.2px;-webkit-text-stroke:0.3px;color:#1c1c1c;right:16.40px;transform:scaleX(1.0314);transform-origin:right center;">13.514</div>
<div class="r" style="left:10px;top:904.5px;width:1580px;height:21.6px;background:linear-gradient(#1b7282 0px, #1f8497 1.2px, #1f8497 calc(100% - 1.2px), #1b7080 100%);"></div>
<div class="t" style="top:912.94px;font-size:12.7px;font-weight:bold;color:#ffffff;left:31.50px;transform:scaleX(0.9741);transform-origin:left center;">Payroll Taxes</div>
<div class="t" style="top:912.94px;font-size:12.7px;font-weight:bold;color:#ffffff;left:977.50px;transform:scaleX(0.9906);transform-origin:left center;">Payroll taxes</div>
<div class="r" style="left:476.3px;top:927.2px;width:434.09999999999997px;height:21.5px;background:#f2f2f2;box-shadow:inset 0 0 0 1px #dcdcdc;"></div>
<div class="r" style="left:562.62px;top:927.2px;width:1px;height:21.5px;background:#dcdcdc;"></div>
<div class="r" style="left:649.44px;top:927.2px;width:1px;height:21.5px;background:#dcdcdc;"></div>
<div class="r" style="left:736.26px;top:927.2px;width:1px;height:21.5px;background:#dcdcdc;"></div>
<div class="r" style="left:823.0799999999999px;top:927.2px;width:1px;height:21.5px;background:#dcdcdc;"></div>
<div class="t" style="top:934.39px;font-size:12.2px;-webkit-text-stroke:0.3px;color:#1c1c1c;left:40.00px;">Payroll Taxes &amp; Benefits Rate</div>
<div class="t" style="top:934.79px;font-size:11.7px;-webkit-text-stroke:0.3px;color:#28287f;right:1039.38px;">20%</div>
<div class="t" style="top:934.79px;font-size:11.7px;-webkit-text-stroke:0.3px;color:#28287f;right:952.56px;">20%</div>
<div class="t" style="top:934.79px;font-size:11.7px;-webkit-text-stroke:0.3px;color:#28287f;right:865.74px;">20%</div>
<div class="t" style="top:934.79px;font-size:11.7px;-webkit-text-stroke:0.3px;color:#28287f;right:778.92px;">20%</div>
<div class="t" style="top:934.79px;font-size:11.7px;-webkit-text-stroke:0.3px;color:#28287f;right:692.10px;">20%</div>
<div class="t" style="top:934.39px;font-size:12.2px;-webkit-text-stroke:0.3px;color:#1c1c1c;left:987.00px;transform:scaleX(1.0261);transform-origin:left center;">Direct Payroll</div>
<div class="t" style="top:934.39px;font-size:12.2px;-webkit-text-stroke:0.3px;color:#1c1c1c;right:363.60px;transform:scaleX(1.0314);transform-origin:right center;">15.167</div>
<div class="t" style="top:934.39px;font-size:12.2px;-webkit-text-stroke:0.3px;color:#1c1c1c;right:276.80px;transform:scaleX(1.0314);transform-origin:right center;">18.872</div>
<div class="t" style="top:934.39px;font-size:12.2px;-webkit-text-stroke:0.3px;color:#1c1c1c;right:190.00px;transform:scaleX(1.0314);transform-origin:right center;">24.854</div>
<div class="t" style="top:934.39px;font-size:12.2px;-webkit-text-stroke:0.3px;color:#1c1c1c;right:103.20px;transform:scaleX(1.0314);transform-origin:right center;">32.100</div>
<div class="t" style="top:934.39px;font-size:12.2px;-webkit-text-stroke:0.3px;color:#1c1c1c;right:16.40px;transform:scaleX(1.0314);transform-origin:right center;">56.896</div>
<div class="t" style="top:956.29px;font-size:12.2px;-webkit-text-stroke:0.3px;color:#1c1c1c;left:987.00px;transform:scaleX(1.0401);transform-origin:left center;">Indirect Payroll</div>
<div class="t" style="top:956.29px;font-size:12.2px;-webkit-text-stroke:0.3px;color:#1c1c1c;right:363.60px;transform:scaleX(1.0314);transform-origin:right center;">15.167</div>
<div class="t" style="top:956.29px;font-size:12.2px;-webkit-text-stroke:0.3px;color:#1c1c1c;right:276.80px;transform:scaleX(1.0314);transform-origin:right center;">22.122</div>
<div class="t" style="top:956.29px;font-size:12.2px;-webkit-text-stroke:0.3px;color:#1c1c1c;right:190.00px;transform:scaleX(1.0314);transform-origin:right center;">22.785</div>
<div class="t" style="top:956.29px;font-size:12.2px;-webkit-text-stroke:0.3px;color:#1c1c1c;right:103.20px;transform:scaleX(1.0314);transform-origin:right center;">27.802</div>
<div class="t" style="top:956.29px;font-size:12.2px;-webkit-text-stroke:0.3px;color:#1c1c1c;right:16.40px;transform:scaleX(1.0314);transform-origin:right center;">35.136</div>
<div class="t" style="top:1020.20px;font-size:14px;-webkit-text-stroke:0.3px;color:#f6f7f3;left:24.00px;transform:scaleX(1.1317);transform-origin:left center;">Total Company</div>
<div class="r" style="left:10px;top:1035.6px;width:1580px;height:21.6px;background:linear-gradient(#1b7282 0px, #1f8497 1.2px, #1f8497 calc(100% - 1.2px), #1b7080 100%);"></div>
<div class="t" style="top:1044.04px;font-size:12.7px;font-weight:bold;color:#ffffff;left:31.50px;transform:scaleX(0.9741);transform-origin:left center;">Payroll Taxes</div>
<div class="t" style="top:1044.04px;font-size:12.7px;font-weight:bold;color:#ffffff;left:977.50px;transform:scaleX(1.0044);transform-origin:left center;">Total Payroll</div>
<div class="t" style="top:1065.49px;font-size:12.2px;font-weight:bold;-webkit-text-stroke:0.2px;color:#1c1c1c;left:978.00px;transform:scaleX(0.9550);transform-origin:left center;">Total Payroll Cost</div>
<div class="t" style="top:1087.14px;font-size:12.2px;-webkit-text-stroke:0.3px;color:#1c1c1c;left:987.00px;transform:scaleX(1.0261);transform-origin:left center;">Direct Payroll</div>
<div class="t" style="top:1087.14px;font-size:12.2px;-webkit-text-stroke:0.3px;color:#1c1c1c;right:363.60px;transform:scaleX(1.0314);transform-origin:right center;">91.000</div>
<div class="t" style="top:1087.14px;font-size:12.2px;-webkit-text-stroke:0.3px;color:#1c1c1c;right:276.80px;transform:scaleX(1.0532);transform-origin:right center;">113.230</div>
<div class="t" style="top:1087.14px;font-size:12.2px;-webkit-text-stroke:0.3px;color:#1c1c1c;right:190.00px;transform:scaleX(1.0316);transform-origin:right center;">149.127</div>
<div class="t" style="top:1087.14px;font-size:12.2px;-webkit-text-stroke:0.3px;color:#1c1c1c;right:103.20px;transform:scaleX(1.0316);transform-origin:right center;">192.601</div>
<div class="t" style="top:1087.14px;font-size:12.2px;-webkit-text-stroke:0.3px;color:#1c1c1c;right:16.40px;transform:scaleX(1.0316);transform-origin:right center;">341.379</div>
<div class="t" style="top:1108.84px;font-size:12.2px;-webkit-text-stroke:0.3px;color:#1c1c1c;left:987.00px;transform:scaleX(1.0401);transform-origin:left center;">Indirect Payroll</div>
<div class="t" style="top:1108.84px;font-size:12.2px;-webkit-text-stroke:0.3px;color:#1c1c1c;right:363.60px;transform:scaleX(1.0314);transform-origin:right center;">91.000</div>
<div class="t" style="top:1108.84px;font-size:12.2px;-webkit-text-stroke:0.3px;color:#1c1c1c;right:276.80px;transform:scaleX(1.0316);transform-origin:right center;">132.730</div>
<div class="t" style="top:1108.84px;font-size:12.2px;-webkit-text-stroke:0.3px;color:#1c1c1c;right:190.00px;transform:scaleX(1.0316);transform-origin:right center;">136.712</div>
<div class="t" style="top:1108.84px;font-size:12.2px;-webkit-text-stroke:0.3px;color:#1c1c1c;right:103.20px;transform:scaleX(1.0316);transform-origin:right center;">166.813</div>
<div class="t" style="top:1108.84px;font-size:12.2px;-webkit-text-stroke:0.3px;color:#1c1c1c;right:16.40px;transform:scaleX(1.0316);transform-origin:right center;">210.818</div>
<div class="r" style="left:957px;top:1122px;width:633px;height:1px;background:#b4b4b4;"></div>
<div class="r" style="left:957px;top:1144px;width:633px;height:2px;background:#c2c2c2;"></div>
<div class="t" style="top:1130.74px;font-size:12.2px;font-weight:bold;-webkit-text-stroke:0.2px;color:#1c1c1c;left:978.00px;transform:scaleX(0.9690);transform-origin:left center;">Total Company Payroll</div>
<div class="t" style="top:1130.96px;font-size:12.3px;font-weight:bold;-webkit-text-stroke:0.2px;color:#1c1c1c;right:363.60px;transform:scaleX(1.0271);transform-origin:right center;">182.000</div>
<div class="t" style="top:1130.96px;font-size:12.3px;font-weight:bold;-webkit-text-stroke:0.2px;color:#1c1c1c;right:276.80px;transform:scaleX(1.0271);transform-origin:right center;">245.960</div>
<div class="t" style="top:1130.96px;font-size:12.3px;font-weight:bold;-webkit-text-stroke:0.2px;color:#1c1c1c;right:190.00px;transform:scaleX(1.0271);transform-origin:right center;">285.839</div>
<div class="t" style="top:1130.96px;font-size:12.3px;font-weight:bold;-webkit-text-stroke:0.2px;color:#1c1c1c;right:103.20px;transform:scaleX(1.0271);transform-origin:right center;">359.414</div>
<div class="t" style="top:1130.96px;font-size:12.3px;font-weight:bold;-webkit-text-stroke:0.2px;color:#1c1c1c;right:16.40px;transform:scaleX(1.0271);transform-origin:right center;">552.196</div>
</body></html>
